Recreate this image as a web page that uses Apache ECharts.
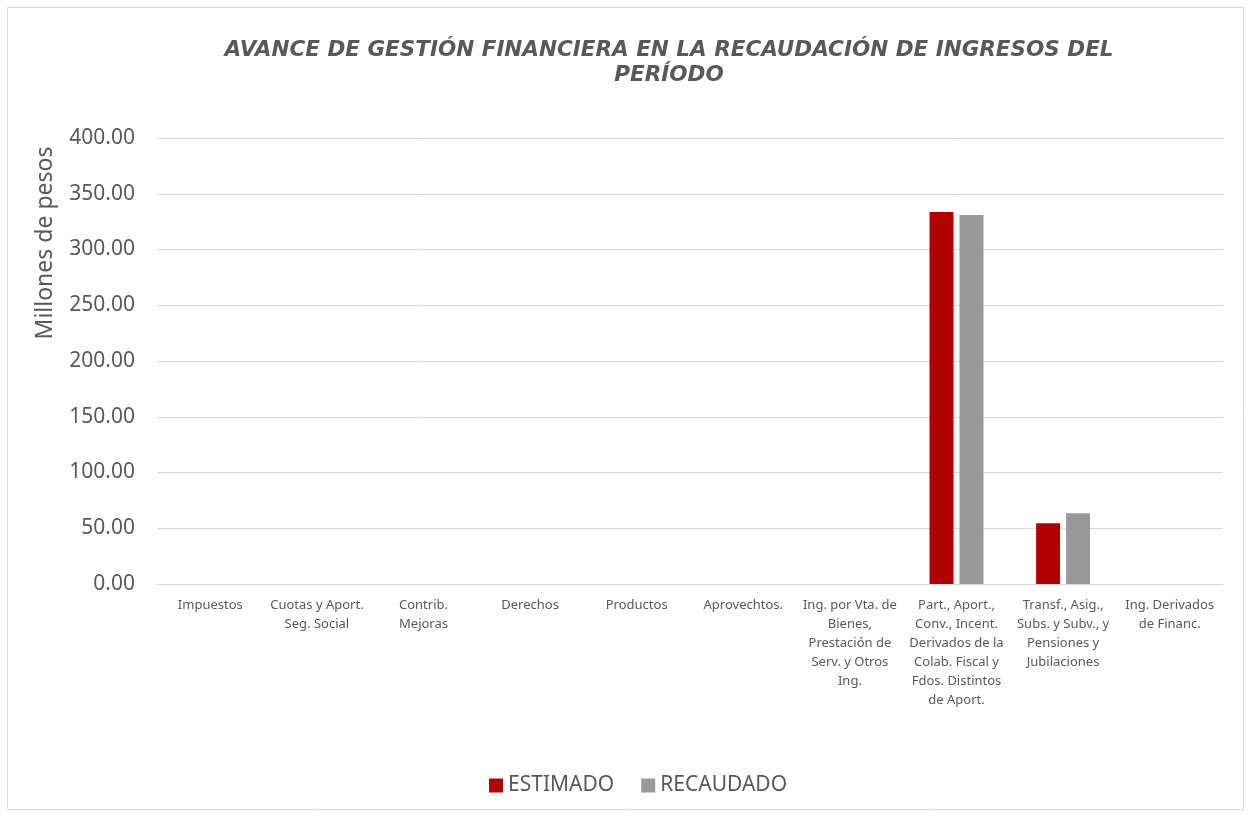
<!DOCTYPE html>
<html>
<head>
<meta charset="utf-8">
<script src="https://cdn.jsdelivr.net/npm/echarts@6/dist/echarts.min.js"></script>
<style>
  html, body { margin: 0; padding: 0; background: #fff; }
  #chart { width: 1251px; height: 816px; }
</style>
</head>
<body>
<div id="chart"></div>
<script>
  // categorias del eje x (con saltos de linea como en el original)
  const categorias = [
    'Impuestos',
    'Cuotas y Aport.\nSeg. Social',
    'Contrib.\nMejoras',
    'Derechos',
    'Productos',
    'Aprovechtos.',
    'Ing. por Vta. de\nBienes,\nPrestación de\nServ. y Otros\nIng.',
    'Part., Aport.,\nConv., Incent.\nDerivados de la\nColab. Fiscal y\nFdos. Distintos\nde Aport.',
    'Transf., Asig.,\nSubs. y Subv., y\nPensiones y\nJubilaciones',
    'Ing. Derivados\nde Financ.'
  ];
  const estimado = [0, 0, 0, 0, 0, 0, 0, 333.6, 54.4, 0];
  const recaudado = [0, 0, 0, 0, 0, 0, 0, 331.0, 63.4, 0];

  const textColor = '#595959';
  const font = 'Noto Sans';

  let myChart = echarts.init(document.getElementById('chart'));
  myChart.setOption({
    animation: false,
    color: ['#B20000', '#999999'],
    title: {
      text: 'AVANCE DE GESTIÓN FINANCIERA EN LA RECAUDACIÓN DE INGRESOS DEL\nPERÍODO',
      left: 664,
      top: 33,
      textAlign: 'center',
      textStyle: {
        fontFamily: 'DejaVu Sans',
        fontStyle: 'italic',
        fontWeight: 'bold',
        fontSize: 21.5,
        lineHeight: 25,
        color: textColor
      }
    },
    graphic: [
      {
        type: 'rect',
        shape: { x: 7.5, y: 7.5, width: 1236, height: 802 },
        style: { fill: 'none', stroke: '#d9d9d9', lineWidth: 1 },
        silent: true
      },
      {
        type: 'text',
        x: 45,
        y: 243,
        rotation: Math.PI / 2,
        style: {
          text: 'Millones de pesos',
          fontFamily: font,
          fontSize: 23,
          fill: textColor,
          textAlign: 'center',
          textVerticalAlign: 'middle'
        }
      }
    ],
    legend: {
      bottom: 15,
      left: 484,
      itemWidth: 14,
      itemHeight: 14,
      itemGap: 27,
      icon: 'rect',
      textStyle: { fontFamily: font, fontSize: 21, color: textColor },
      data: ['ESTIMADO', 'RECAUDADO']
    },
    grid: {
      left: 157,
      right: 28,
      top: 138,
      bottom: 232
    },
    xAxis: {
      type: 'category',
      data: categorias,
      axisTick: { show: false },
      axisLine: { lineStyle: { color: '#d9d9d9', width: 1 } },
      axisLabel: {
        interval: 0,
        color: textColor,
        fontFamily: font,
        fontSize: 13,
        lineHeight: 19,
        margin: 12
      }
    },
    yAxis: {
      type: 'value',
      min: 0,
      max: 400,
      interval: 50,
      axisLine: { show: false },
      axisTick: { show: false },
      splitLine: { lineStyle: { color: '#d9d9d9', width: 1 } },
      axisLabel: {
        color: textColor,
        fontFamily: font,
        fontSize: 21,
        margin: 22,
        formatter: function (v) { return v.toFixed(2); }
      }
    },
    series: [
      {
        name: 'ESTIMADO',
        type: 'bar',
        data: estimado,
        barWidth: '22.5%',
        barGap: '25%'
      },
      {
        name: 'RECAUDADO',
        type: 'bar',
        data: recaudado,
        barWidth: '22.5%'
      }
    ]
  });
</script>
</body>
</html>
